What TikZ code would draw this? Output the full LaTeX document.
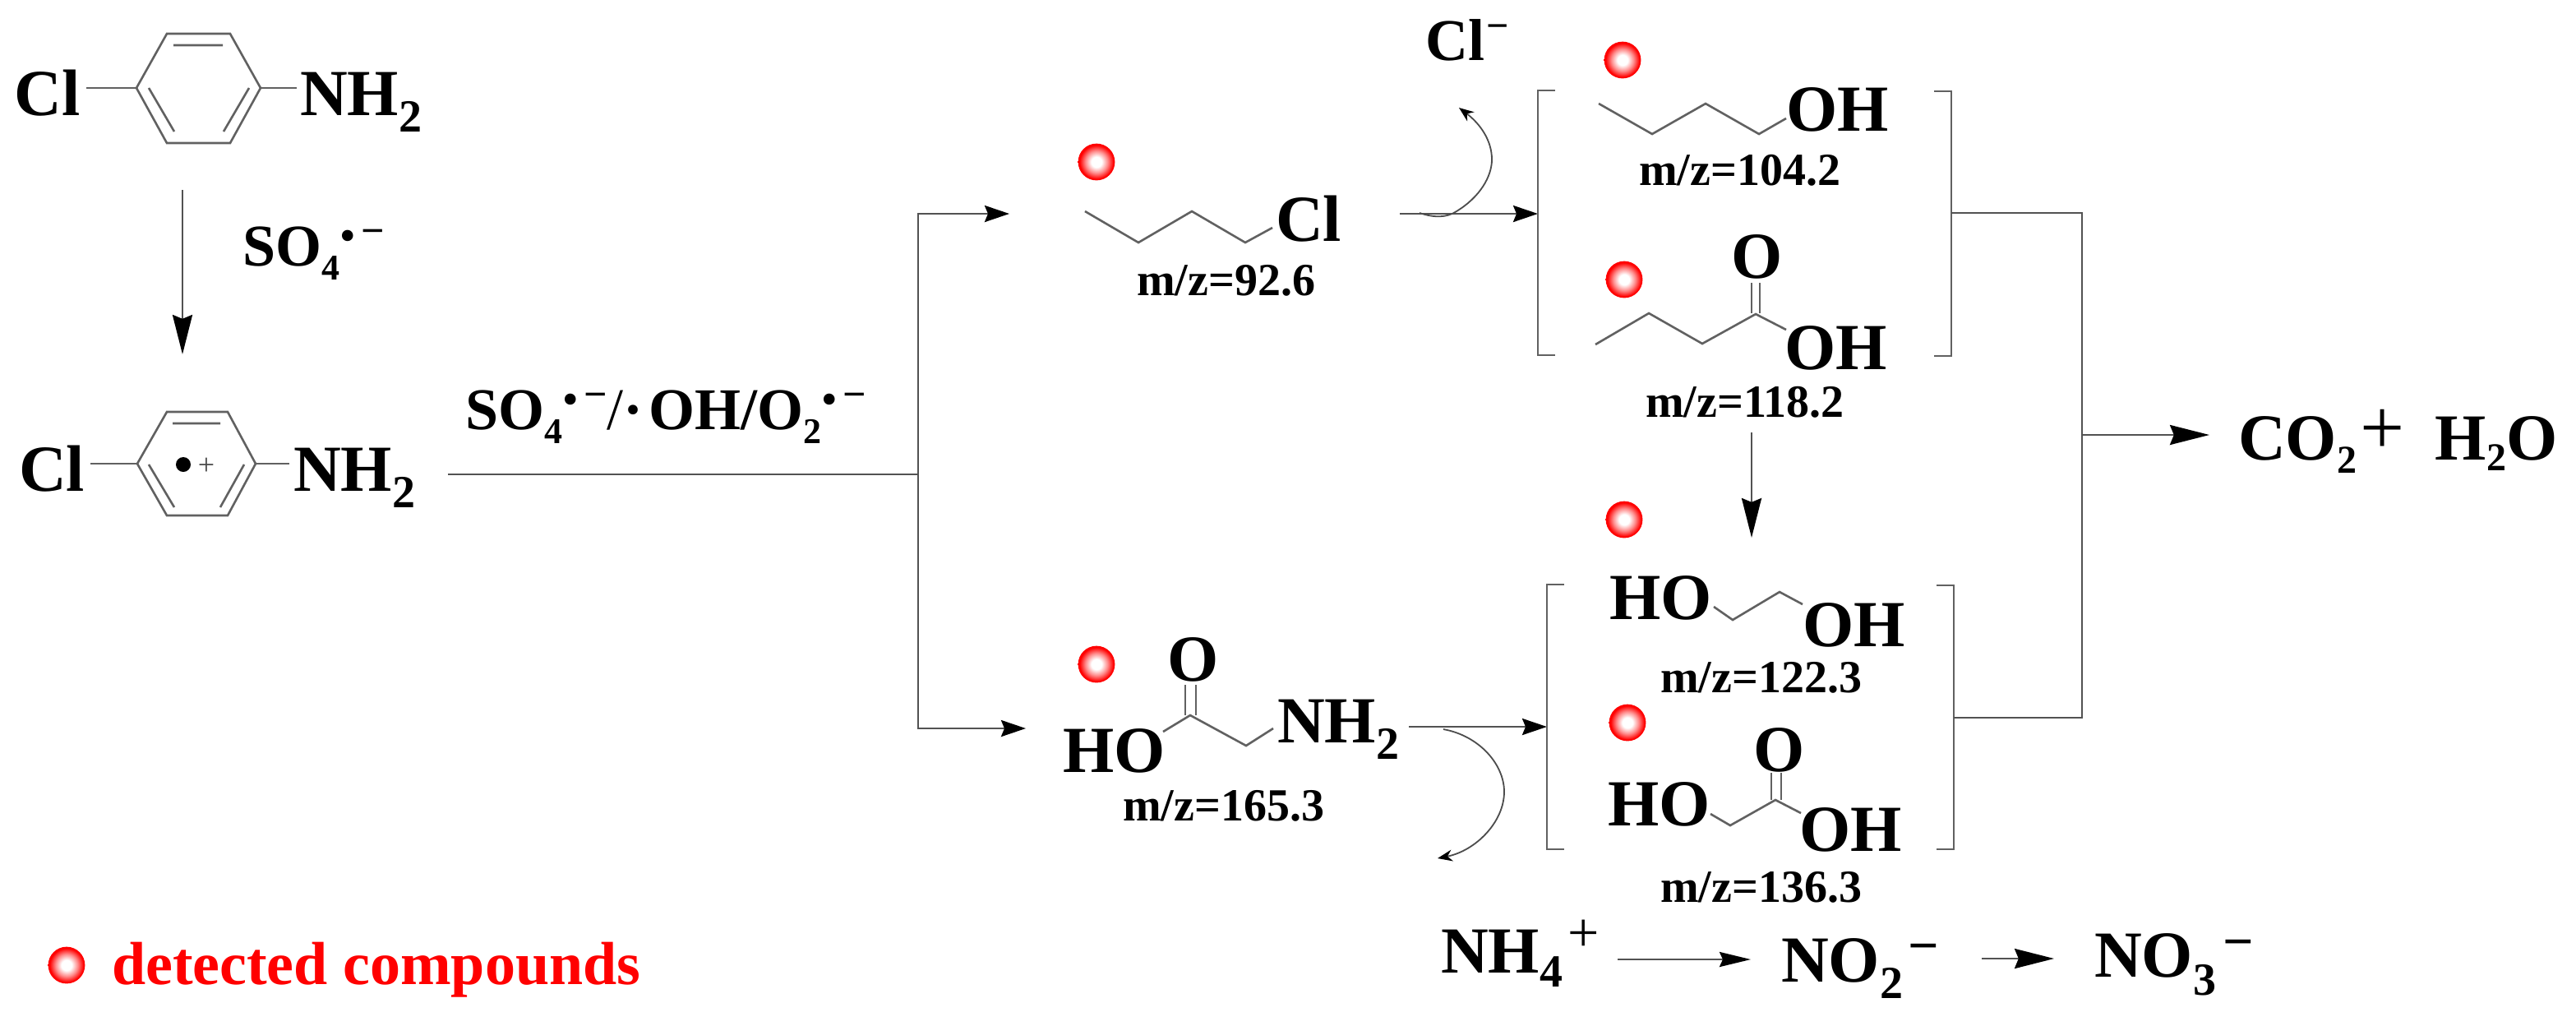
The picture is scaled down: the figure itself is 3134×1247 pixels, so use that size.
\documentclass[tikz,border=0pt]{standalone}
\usepackage{fontspec}
\setmainfont{Liberation Serif}
\usetikzlibrary{arrows.meta}
\newcommand{\lowr}[3]{\raisebox{-#2pt}{\fontsize{#1}{#1}\selectfont #3}}
\newcommand{\rais}[3]{\raisebox{#2pt}{\fontsize{#1}{#1}\selectfont #3}}
\newcommand{\radminus}{\hspace{0.4pt}\rais{12.5}{5}{•}\hspace{1.8pt}\rais{12.5}{6.5}{−}}
\pgfdeclareradialshading{redball}{\pgfpoint{0bp}{0bp}}{color(0bp)=(white);color(7bp)=(white);color(15bp)=(red!45!white);color(23bp)=(red);color(50bp)=(red)}
\tikzset{
  lab/.style={anchor=base west,inner sep=0pt,outer sep=0pt,font=\fontsize{20}{20}\selectfont\bfseries},
  mz/.style={lab,font=\fontsize{14}{14}\selectfont\bfseries},
  bond/.style={draw=black!62,line width=0.65pt,line join=miter},
  line/.style={draw=black!68,line width=0.7pt},
  bigarrow/.style={line,-{Stealth[length=12pt,width=6pt,inset=1.2pt,color=black]}},
  medarrow/.style={line,-{Stealth[length=7.5pt,width=5pt,inset=1pt,color=black]}},
  narrow/.style={line,-{Stealth[length=9.5pt,width=4.5pt,inset=1pt,color=black]}},
  curvearrow/.style={draw=black!70,line width=0.45pt,-{Stealth[length=4.5pt,width=3.5pt,color=black]}},
  detected/.style={circle,minimum size=11.2pt,inner sep=0pt,outer sep=0pt,shading=redball}
}
\begin{document}
\begin{tikzpicture}[x=0.25pt,y=-0.25pt]
\useasboundingbox (0,0) rectangle (3134,1247);
\fill[white] (0,0) rectangle (3134,1247);

% ring 1
\node[lab] (cla) at (18,140) {Cl};
\node[lab] (nha) at (365,140) {NH\lowr{14}{5}{2}};
\draw[bond] (166,107)--(203,41)--(280,41)--(317,107)--(280,174)--(203,174)--cycle;
\draw[bond] (211,55)--(271,55) (181,107)--(212,160) (303,107)--(272,160);
\draw[bond] (105,107)--(166,107) (317,107)--(361,107);
\node[lab,font=\fontsize{18}{18}\selectfont\bfseries] (soa) at (295,323) {SO\lowr{11}{4.3}{4}\radminus};
\coordinate (a1s) at (222,231);
\coordinate (a1e) at (222,431);
\draw[bigarrow] (a1s)--(a1e);

% ring 2
\node[lab] (clb) at (23,597) {Cl};
\node[lab] (nhb) at (357,597) {NH\lowr{14}{5}{2}};
\draw[bond] (167,564)--(203,501)--(277,501)--(311,564)--(277,627)--(203,627)--cycle;
\draw[bond] (210,515)--(268,515) (181,565)--(212,617) (297,565)--(268,617);
\draw[bond] (110,564)--(167,564) (311,564)--(352,564);
\fill[black] (223,565) circle[radius=9];
\node[anchor=base,inner sep=0pt,font=\fontsize{9}{9}\selectfont,text=black!70] (plusb) at (251,577) {+};

% oxidants
\node[lab,font=\fontsize{18}{18}\selectfont\bfseries] (sob) at (566,522) {SO\lowr{11}{4.3}{4}\radminus{\mdseries/}·\hspace{1.6pt}OH/O\lowr{11}{4.3}{2}\radminus};
\coordinate (t1) at (545,577);
\coordinate (t2) at (1117,577);
\coordinate (t3) at (1117,260);
\coordinate (t4) at (1117,886);
\coordinate (t5) at (1228,260);
\coordinate (t6) at (1248,886);
\draw[line] (t1)--(t2);
\draw[medarrow] (t2)--(t3)--(t5);
\draw[medarrow] (t2)--(t4)--(t6);

% chlorobutane
\node[detected] (b1) at (1334,197) {};
\draw[bond] (1320,257)--(1385,295)--(1450,257)--(1515,295)--(1548,277);
\node[lab] (clc) at (1552,293) {Cl};
\node[mz] (mz1) at (1383,359) {m/z=92.6};
\coordinate (a2s) at (1703,260);
\coordinate (a2e) at (1871,260);
\draw[medarrow] (a2s)--(a2e);
\node[lab,font=\fontsize{18}{18}\selectfont\bfseries] (clm) at (1734,73) {Cl\hspace{0.5pt}\rais{12}{6.5}{−}};
\coordinate (c1s) at (1727,259);
\coordinate (c1e) at (1775,131);
\draw[curvearrow] (c1s) .. controls (1745,265) and (1760,265) .. (1772,257) .. controls (1800,240) and (1815,215) .. (1815,194) .. controls (1815,170) and (1800,150) .. (c1e);

% upper bracket
\draw[bond] (1892,110)--(1871,110)--(1871,432)--(1892,432);
\draw[bond] (2353,111)--(2374,111)--(2374,433)--(2353,433);
\node[detected] (b2) at (1974,73) {};
\draw[bond] (1945,126)--(2010,163)--(2075,126)--(2140,163)--(2173,144);
\node[lab] (oha) at (2173,159) {OH};
\node[mz] (mz2) at (1994,225) {m/z=104.2};
\node[detected] (b3) at (1976,340) {};
\draw[bond] (1941,419)--(2006,381)--(2071,418)--(2136,382)--(2173,401);
\draw[bond] (2131,381)--(2131,344) (2141,381)--(2141,344);
\node[lab] (oa) at (2106,338) {O};
\node[lab] (ohb) at (2171,449) {OH};
\node[mz] (mz3) at (2002,507) {m/z=118.2};
\coordinate (a3s) at (2131,526);
\coordinate (a3e) at (2131,654);
\draw[bigarrow] (a3s)--(a3e);

% glycine
\node[detected] (b4) at (1334,808) {};
\node[lab] (hoa) at (1293,939) {HO};
\draw[bond] (1415,890)--(1448,870)--(1516,907)--(1549,886);
\draw[bond] (1442,870)--(1442,833) (1455,870)--(1455,833);
\node[lab] (ob) at (1420,828) {O};
\node[lab] (nhc) at (1554,903) {NH\lowr{14}{5}{2}};
\node[mz] (mz4) at (1366,998) {m/z=165.3};
\coordinate (a4s) at (1714,884);
\coordinate (a4e) at (1882,884);
\draw[medarrow] (a4s)--(a4e);
\coordinate (c2s) at (1756,887);
\coordinate (c2e) at (1749,1044);
\draw[curvearrow] (c2s) .. controls (1800,895) and (1830,930) .. (1830,963) .. controls (1830,1000) and (1795,1035) .. (c2e);

% lower bracket
\draw[bond] (1903,711)--(1882,711)--(1882,1033)--(1903,1033);
\draw[bond] (2356,712)--(2377,712)--(2377,1033)--(2356,1033);
\node[detected] (b5) at (1976,632) {};
\node[lab] (hob) at (1958,753) {HO};
\draw[bond] (2085,738)--(2108,754)--(2165,720)--(2193,735);
\node[lab] (ohc) at (2193,786) {OH};
\node[mz] (mz5) at (2020,842) {m/z=122.3};
\node[detected] (b6) at (1980,879) {};
\node[lab] (hoc) at (1956,1004) {HO};
\draw[bond] (2081,990)--(2105,1004)--(2160,973)--(2191,989);
\draw[bond] (2155,973)--(2155,940) (2167,973)--(2167,940);
\node[lab] (oc) at (2133,938) {O};
\node[lab] (ohd) at (2189,1035) {OH};
\node[mz] (mz6) at (2020,1097) {m/z=136.3};

% merge
\coordinate (m1) at (2374,259);
\coordinate (m2) at (2533,259);
\coordinate (m3) at (2533,873);
\coordinate (m4) at (2377,873);
\coordinate (m5) at (2533,529);
\coordinate (m6) at (2688,529);
\draw[line] (m1)--(m2)--(m3)--(m4);
\draw[bigarrow] (m5)--(m6);
\node[lab] (prod) at (2723,559) {CO\lowr{12}{4}{2}\hspace{1pt}\rais{24}{1.6}{\mdseries+}\hspace{9.4pt}H\lowr{12}{3.3}{2}O};

% nitrogen
\node[lab] (nh4) at (1753,1183) {NH\lowr{14}{4.3}{4}\hspace{1.5pt}\rais{17}{6.5}{\mdseries+}};
\coordinate (n1s) at (1968,1167);
\coordinate (n1e) at (2130,1167);
\draw[narrow] (n1s)--(n1e);
\node[lab] (no2) at (2167,1194) {NO\lowr{14}{5.2}{2}\hspace{1.5pt}\rais{16.5}{5.5}{−}};
\coordinate (n2s) at (2411,1166);
\coordinate (n2e) at (2499,1166);
\draw[bigarrow] (n2s)--(n2e);
\node[lab] (no3) at (2548,1188) {NO\lowr{14}{5.5}{3}\hspace{2pt}\rais{16.5}{5.2}{−}};

% legend
\node[detected] (b7) at (81,1174) {};
\node[lab,font=\fontsize{18.5}{18.5}\selectfont\bfseries,text=red] (leg) at (136,1197) {detected compounds};
\end{tikzpicture}
\end{document}
